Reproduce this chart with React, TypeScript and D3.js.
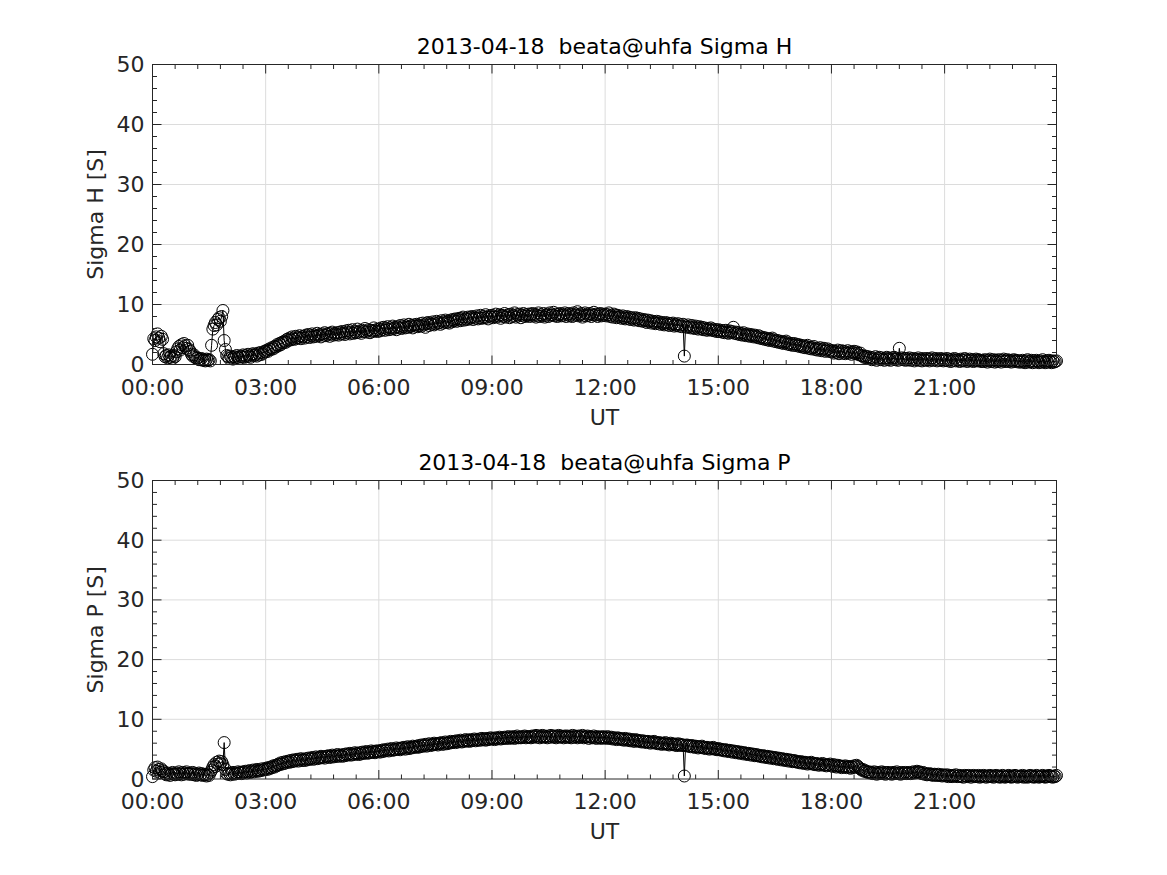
import { useMemo } from 'react';
import * as d3 from 'd3';

// one sample every 2 minutes, 00:00 .. 23:58, 30 per hour
const TIME_MIN = d3.range(0, 1440, 2);

const SIGMA_H = [
  // 00
  1.7, 4.3, 4.0, 4.6, 5.1, 4.4, 3.8, 4.7, 4.2, 1.8,
  1.3, 1.5, 1.1, 1.6, 1.2, 1.4, 1.0, 1.5, 1.3, 2.1,
  2.6, 3.0, 2.4, 3.3, 2.8, 3.5, 3.1, 2.7, 3.2, 2.5,
  // 01
  2.2, 1.7, 1.4, 1.6, 1.2, 1.0, 1.1, 0.8, 0.9, 1.0,
  0.7, 0.8, 0.6, 0.9, 0.7, 0.8, 0.6, 3.2, 5.9, 6.5,
  7.0, 6.6, 7.5, 7.8, 7.2, 8.0, 9.0, 4.0, 2.5, 1.5,
  // 02
  1.3, 1.0, 1.4, 1.2, 0.9, 1.3, 1.1, 1.5, 1.2, 1.0,
  1.4, 1.3, 1.6, 1.2, 1.5, 1.3, 1.7, 1.4, 1.2, 1.6,
  1.8, 1.5, 1.7, 1.4, 1.9, 1.6, 2.0, 1.7, 1.9, 2.2,
  // 03
  2.1, 2.4, 2.2, 2.6, 2.5, 2.8, 2.6, 3.0, 2.9, 3.3,
  3.1, 3.5, 3.3, 3.7, 3.6, 3.9, 3.7, 4.2, 4.0, 4.4,
  4.1, 4.6, 4.3, 4.2, 4.7, 4.4, 4.5, 4.8, 4.3, 4.6,
  // 04
  4.7, 4.4, 4.9, 4.6, 5.0, 4.5, 4.8, 5.1, 4.6, 4.9,
  4.7, 5.2, 4.8, 5.0, 4.6, 5.1, 4.9, 5.3, 4.8, 5.0,
  5.2, 4.7, 5.1, 5.4, 4.9, 5.2, 5.0, 5.3, 4.9, 5.4,
  // 05
  5.1, 5.5, 5.2, 5.0, 5.6, 5.3, 5.7, 5.1, 5.4, 5.8,
  5.2, 5.5, 5.3, 5.9, 5.4, 5.6, 5.2, 5.7, 5.5, 6.0,
  5.4, 5.6, 5.8, 5.3, 5.7, 5.5, 6.1, 5.6, 5.8, 5.5,
  // 06
  5.9, 5.6, 6.1, 5.8, 6.2, 5.7, 6.0, 6.3, 5.8, 6.1,
  5.9, 6.4, 6.0, 6.2, 5.8, 6.3, 6.1, 6.5, 6.0, 6.3,
  6.6, 6.1, 6.4, 6.2, 6.7, 6.3, 6.5, 6.1, 6.6, 6.4,
  // 07
  6.7, 6.3, 6.5, 6.8, 6.4, 6.9, 6.6, 6.2, 6.8, 7.0,
  6.5, 6.9, 6.7, 7.1, 6.6, 6.8, 7.2, 6.9, 7.0, 6.7,
  7.3, 6.9, 7.1, 7.4, 7.0, 7.2, 6.9, 7.4, 7.1, 7.5,
  // 08
  7.3, 7.6, 7.2, 7.5, 7.7, 7.3, 7.6, 7.9, 7.4, 7.7,
  7.5, 7.9, 7.6, 7.8, 8.0, 7.5, 7.9, 7.7, 8.1, 7.6,
  7.8, 8.2, 7.7, 8.0, 7.8, 8.3, 7.9, 7.6, 8.1, 7.9,
  // 09
  8.2, 7.8, 8.0, 8.4, 7.9, 8.1, 8.3, 7.7, 8.2, 8.0,
  8.5, 7.9, 8.1, 8.3, 7.8, 8.4, 8.0, 8.2, 8.6, 7.9,
  8.3, 8.1, 8.4, 7.8, 8.2, 8.5, 8.0, 8.3, 8.1, 8.4,
  // 10
  8.0, 8.3, 8.5, 8.1, 8.4, 7.9, 8.2, 8.6, 8.0, 8.3,
  8.1, 8.5, 7.9, 8.2, 8.4, 8.0, 8.6, 8.2, 8.3, 8.7,
  8.1, 8.4, 8.0, 8.3, 8.5, 8.1, 8.4, 8.2, 8.6, 8.0,
  // 11
  8.3, 8.5, 8.1, 8.4, 8.0, 8.6, 8.2, 8.4, 8.8, 8.1,
  8.3, 8.5, 7.9, 8.2, 8.6, 8.1, 8.4, 8.2, 8.5, 8.0,
  8.3, 8.7, 8.2, 8.4, 8.0, 8.3, 8.5, 8.1, 8.4, 8.2,
  // 12
  8.4, 8.1, 8.3, 8.6, 8.0, 8.2, 7.9, 8.4, 8.1, 7.8,
  8.2, 7.9, 8.0, 7.7, 8.1, 7.8, 7.6, 8.0, 7.7, 7.9,
  7.5, 7.8, 7.6, 7.4, 7.8, 7.5, 7.7, 7.3, 7.6, 7.4,
  // 13
  7.2, 7.5, 7.3, 7.0, 7.4, 7.1, 7.3, 6.9, 7.2, 7.0,
  6.8, 7.2, 6.9, 7.1, 6.7, 7.0, 6.8, 6.6, 7.0, 6.7,
  6.9, 6.5, 6.8, 6.6, 6.9, 6.4, 6.7, 6.5, 6.8, 6.4,
  // 14
  6.6, 6.3, 6.7, 1.4, 6.4, 6.2, 6.6, 6.3, 6.1, 6.5,
  6.2, 6.0, 6.4, 6.1, 5.9, 6.3, 6.0, 6.2, 5.8, 6.1,
  5.9, 5.7, 6.0, 5.8, 6.1, 5.7, 5.9, 5.6, 5.8, 5.5,
  // 15
  5.8, 5.5, 5.7, 5.4, 5.6, 5.3, 5.7, 5.4, 5.2, 5.6,
  5.3, 5.5, 6.2, 5.2, 5.4, 5.1, 5.3, 5.0, 5.2, 4.9,
  5.3, 5.0, 4.8, 5.1, 4.9, 4.7, 5.0, 4.8, 4.6, 4.9,
  // 16
  4.7, 4.5, 4.8, 4.4, 4.6, 4.3, 4.5, 4.2, 4.4, 4.1,
  4.3, 4.0, 4.2, 4.4, 3.9, 4.1, 3.8, 4.0, 3.7, 3.9,
  3.6, 3.8, 3.5, 3.7, 3.9, 3.4, 3.6, 3.3, 3.5, 3.2,
  // 17
  3.5, 3.2, 3.4, 3.1, 3.3, 3.0, 3.2, 2.9, 3.1, 2.8,
  3.0, 3.2, 2.7, 2.9, 2.6, 2.8, 3.0, 2.5, 2.7, 2.4,
  2.6, 2.8, 2.3, 2.5, 2.7, 2.2, 2.4, 2.6, 2.2, 2.4,
  // 18
  2.1, 2.3, 1.9, 2.2, 2.0, 2.4, 1.8, 2.1, 2.3, 1.9,
  2.2, 1.8, 2.0, 2.3, 1.9, 2.1, 1.7, 2.0, 2.2, 1.8,
  2.1, 1.9, 1.6, 1.9, 1.5, 1.4, 1.2, 1.4, 1.1, 1.3,
  // 19
  1.0, 1.2, 0.8, 1.1, 0.9, 1.3, 0.7, 1.0, 1.2, 0.8,
  1.1, 0.9, 0.7, 1.0, 1.2, 0.8, 1.0, 0.7, 1.1, 0.9,
  1.2, 0.8, 1.0, 0.7, 2.7, 0.9, 1.1, 0.8, 1.0, 0.7,
  // 20
  1.0, 0.8, 1.1, 0.7, 0.9, 1.0, 0.6, 0.9, 0.8, 1.1,
  0.7, 0.9, 0.6, 1.0, 0.8, 0.7, 1.0, 0.8, 0.6, 0.9,
  1.1, 0.7, 0.8, 1.0, 0.6, 0.9, 0.7, 1.0, 0.8, 0.6,
  // 21
  0.9, 0.7, 1.0, 0.6, 0.8, 0.5, 0.9, 0.7, 1.0, 0.6,
  0.8, 0.7, 0.5, 0.9, 0.7, 0.6, 1.0, 0.8, 0.5, 0.7,
  0.9, 0.6, 0.8, 0.5, 0.7, 0.9, 0.6, 0.8, 0.7, 0.5,
  // 22
  0.7, 0.5, 0.8, 0.6, 0.4, 0.7, 0.9, 0.5, 0.6, 0.8,
  0.4, 0.7, 0.5, 0.8, 0.6, 0.4, 0.7, 0.9, 0.5, 0.6,
  0.8, 0.5, 0.7, 0.4, 0.6, 0.8, 0.5, 0.7, 0.6, 0.4,
  // 23
  0.6, 0.4, 0.7, 0.5, 0.3, 0.6, 0.8, 0.4, 0.5, 0.7,
  0.3, 0.6, 0.4, 0.7, 0.5, 0.3, 0.6, 0.4, 0.8, 0.5,
  0.3, 0.6, 0.4, 0.7, 0.5, 0.3, 0.6, 0.4, 0.5, 0.6,
];

const SIGMA_P = [
  // 00
  0.4, 1.5, 1.9, 1.3, 2.0, 1.6, 1.1, 1.7, 1.4, 1.2,
  0.9, 0.7, 1.0, 0.8, 0.6, 0.9, 1.1, 0.8, 0.7, 1.0,
  0.8, 1.2, 0.9, 0.7, 1.1, 0.8, 1.0, 1.2, 0.9, 0.8,
  // 01
  1.0, 0.8, 1.1, 0.7, 0.9, 0.6, 0.8, 1.0, 0.7, 0.9,
  0.6, 0.8, 0.7, 0.5, 0.8, 0.6, 1.1, 1.5, 2.0, 2.4,
  2.1, 2.8, 2.5, 3.0, 2.6, 2.9, 2.4, 6.1, 1.6, 0.9,
  // 02
  0.8, 1.0, 0.7, 0.9, 1.1, 0.8, 1.0, 0.9, 1.2, 1.0,
  1.1, 0.9, 1.2, 1.1, 1.3, 1.0, 1.2, 1.4, 1.1, 1.3,
  1.5, 1.2, 1.4, 1.6, 1.3, 1.5, 1.4, 1.7, 1.5, 1.6,
  // 03
  1.8, 1.6, 1.9, 1.7, 2.0, 1.9, 2.2, 2.0, 2.3, 2.2,
  2.5, 2.4, 2.7, 2.5, 2.8, 2.6, 2.9, 2.8, 3.0, 2.8,
  3.1, 2.9, 3.2, 3.0, 3.1, 3.3, 3.0, 3.2, 3.4, 3.1,
  // 04
  3.3, 3.1, 3.4, 3.2, 3.5, 3.3, 3.4, 3.6, 3.3, 3.5,
  3.7, 3.4, 3.6, 3.5, 3.8, 3.6, 3.7, 3.5, 3.8, 3.7,
  3.9, 3.6, 3.8, 4.0, 3.7, 3.9, 3.8, 4.1, 3.8, 4.0,
  // 05
  4.0, 3.8, 4.1, 3.9, 4.2, 4.0, 4.1, 4.3, 4.0, 4.2,
  4.1, 4.4, 4.2, 4.3, 4.1, 4.4, 4.2, 4.5, 4.3, 4.4,
  4.6, 4.3, 4.5, 4.4, 4.7, 4.5, 4.6, 4.4, 4.7, 4.6,
  // 06
  4.7, 4.5, 4.8, 4.6, 4.9, 4.7, 4.8, 5.0, 4.7, 4.9,
  5.1, 4.8, 5.0, 4.9, 5.2, 5.0, 5.1, 4.9, 5.2, 5.1,
  5.3, 5.0, 5.2, 5.4, 5.1, 5.3, 5.2, 5.5, 5.3, 5.4,
  // 07
  5.5, 5.3, 5.6, 5.4, 5.7, 5.5, 5.6, 5.8, 5.5, 5.7,
  5.9, 5.6, 5.8, 5.7, 6.0, 5.8, 5.9, 5.7, 6.0, 5.9,
  6.1, 5.8, 6.0, 6.2, 5.9, 6.1, 6.0, 6.3, 6.1, 6.2,
  // 08
  6.3, 6.1, 6.4, 6.2, 6.3, 6.5, 6.2, 6.4, 6.3, 6.6,
  6.4, 6.5, 6.3, 6.6, 6.4, 6.5, 6.7, 6.4, 6.6, 6.5,
  6.7, 6.5, 6.8, 6.6, 6.7, 6.5, 6.8, 6.6, 6.7, 6.9,
  // 09
  6.7, 6.8, 6.6, 6.9, 6.7, 6.8, 7.0, 6.7, 6.9, 6.8,
  7.0, 6.8, 6.9, 7.1, 6.8, 7.0, 6.9, 7.1, 6.8, 7.0,
  7.2, 6.9, 7.0, 6.9, 7.1, 7.0, 7.2, 6.9, 7.1, 7.0,
  // 10
  7.1, 6.9, 7.2, 7.0, 7.1, 7.3, 7.0, 7.2, 6.9, 7.1,
  7.3, 7.0, 7.2, 7.1, 6.9, 7.2, 7.0, 7.3, 7.1, 7.0,
  7.2, 6.9, 7.1, 7.3, 7.0, 7.2, 7.1, 6.9, 7.2, 7.0,
  // 11
  7.2, 7.0, 7.1, 6.9, 7.3, 7.0, 7.2, 7.1, 6.9, 7.2,
  7.0, 7.1, 7.3, 6.9, 7.1, 7.0, 7.2, 6.8, 7.1, 7.0,
  6.9, 7.2, 7.0, 6.8, 7.1, 6.9, 7.0, 6.8, 7.1, 6.9,
  // 12
  7.0, 6.8, 7.1, 6.9, 6.8, 7.0, 6.7, 6.9, 6.8, 6.6,
  6.9, 6.7, 6.8, 6.6, 6.7, 6.5, 6.8, 6.6, 6.5, 6.7,
  6.4, 6.6, 6.5, 6.3, 6.6, 6.4, 6.5, 6.3, 6.4, 6.2,
  // 13
  6.4, 6.2, 6.3, 6.1, 6.3, 6.2, 6.0, 6.2, 6.1, 6.3,
  6.0, 6.1, 5.9, 6.1, 6.0, 5.8, 6.0, 5.9, 6.1, 5.8,
  5.9, 5.7, 6.0, 5.8, 5.9, 5.7, 5.8, 5.6, 5.9, 5.7,
  // 14
  5.8, 5.6, 5.7, 0.5, 5.6, 5.7, 5.5, 5.6, 5.4, 5.6,
  5.5, 5.3, 5.5, 5.4, 5.2, 5.4, 5.3, 5.5, 5.2, 5.3,
  5.1, 5.3, 5.2, 5.0, 5.2, 5.1, 5.3, 5.0, 5.1, 4.9,
  // 15
  5.1, 4.9, 5.0, 4.8, 4.9, 4.7, 4.9, 4.8, 4.6, 4.8,
  4.7, 4.5, 4.7, 4.6, 4.4, 4.6, 4.5, 4.3, 4.5, 4.4,
  4.2, 4.4, 4.3, 4.1, 4.3, 4.2, 4.0, 4.2, 4.1, 3.9,
  // 16
  4.1, 3.9, 4.0, 3.8, 3.9, 3.7, 3.9, 3.8, 3.6, 3.8,
  3.7, 3.5, 3.7, 3.6, 3.4, 3.6, 3.5, 3.3, 3.5, 3.4,
  3.2, 3.4, 3.3, 3.1, 3.3, 3.2, 3.0, 3.2, 3.1, 2.9,
  // 17
  3.1, 2.9, 3.0, 2.8, 2.9, 2.7, 2.9, 2.8, 2.6, 2.8,
  2.7, 2.5, 2.7, 2.6, 2.8, 2.5, 2.6, 2.4, 2.6, 2.5,
  2.3, 2.5, 2.4, 2.6, 2.3, 2.4, 2.2, 2.4, 2.3, 2.5,
  // 18
  2.3, 2.1, 2.4, 2.2, 2.0, 2.3, 2.1, 2.2, 1.9, 2.1,
  2.0, 2.2, 1.9, 2.1, 2.0, 1.8, 2.1, 1.9, 2.2, 2.0,
  2.3, 2.1, 1.9, 1.7, 1.5, 1.6, 1.3, 1.4, 1.2, 1.1,
  // 19
  1.2, 1.0, 1.1, 0.9, 1.2, 1.0, 0.8, 1.1, 0.9, 1.0,
  1.2, 0.9, 1.1, 0.8, 1.0, 1.1, 0.9, 1.0, 0.8, 1.1,
  0.9, 1.0, 1.2, 0.9, 1.0, 0.8, 1.1, 0.9, 1.0, 1.1,
  // 20
  0.9, 1.0, 1.1, 0.9, 1.0, 1.2, 1.0, 1.1, 1.3, 1.1,
  1.2, 1.0, 0.9, 1.1, 0.8, 0.9, 0.7, 0.8, 0.9, 0.7,
  0.8, 0.6, 0.8, 0.7, 0.6, 0.8, 0.6, 0.7, 0.5, 0.7,
  // 21
  0.6, 0.5, 0.7, 0.4, 0.6, 0.5, 0.4, 0.6, 0.5, 0.7,
  0.4, 0.5, 0.6, 0.4, 0.5, 0.3, 0.6, 0.5, 0.4, 0.6,
  0.5, 0.3, 0.5, 0.6, 0.4, 0.5, 0.4, 0.6, 0.3, 0.5,
  // 22
  0.4, 0.6, 0.5, 0.3, 0.5, 0.4, 0.6, 0.4, 0.5, 0.3,
  0.5, 0.6, 0.4, 0.5, 0.3, 0.4, 0.6, 0.5, 0.3, 0.4,
  0.5, 0.6, 0.4, 0.3, 0.5, 0.4, 0.6, 0.5, 0.3, 0.4,
  // 23
  0.5, 0.4, 0.6, 0.3, 0.5, 0.4, 0.3, 0.5, 0.6, 0.4,
  0.5, 0.3, 0.4, 0.6, 0.5, 0.3, 0.4, 0.5, 0.6, 0.4,
  0.3, 0.5, 0.4, 0.6, 0.5, 0.4, 0.3, 0.5, 0.4, 0.6,
];

const X_TICK_MIN = [0, 180, 360, 540, 720, 900, 1080, 1260];
const X_TICK_LABELS = ['00:00', '03:00', '06:00', '09:00', '12:00', '15:00', '18:00', '21:00'];
const Y_TICKS = [0, 10, 20, 30, 40, 50];

const W = 1167;
const H = 875;
const LEFT = 152.5;
const RIGHT = 1056.5;
const FONT = '"DejaVu Sans", sans-serif';
const AX = '#262626';

function Panel({ top, bottom, values, title, ylabel }) {
  const x = useMemo(() => d3.scaleLinear().domain([0, 1438]).range([LEFT, RIGHT]), []);
  const y = useMemo(() => d3.scaleLinear().domain([0, 50]).range([bottom, top]), [top, bottom]);

  const pts = TIME_MIN.map((t, i) => [x(t), y(values[i])]).filter((p) => !isNaN(p[1]));
  const line = d3.line()(pts);

  const xMinor = d3.range(0, 1440, 36).filter((m) => m % 180 !== 0 && x(m) < RIGHT);
  const yMinor = d3.range(0, 51, 2).filter((v) => v % 10 !== 0);

  return (
    <g>
      {/* grid */}
      {X_TICK_MIN.slice(1).map((m) => (
        <line key={'gx' + m} x1={x(m)} x2={x(m)} y1={top} y2={bottom} stroke="#dcdcdc" strokeWidth={1} />
      ))}
      {Y_TICKS.slice(1, -1).map((v) => (
        <line key={'gy' + v} x1={LEFT} x2={RIGHT} y1={y(v)} y2={y(v)} stroke="#dcdcdc" strokeWidth={1} />
      ))}

      {/* data */}
      <path d={line} fill="none" stroke="#000" strokeWidth={1} />
      {pts.map(([px, py], i) => (
        <circle key={i} cx={px} cy={py} r={6} fill="none" stroke="#000" strokeWidth={1} />
      ))}

      {/* box */}
      <rect x={LEFT} y={top} width={RIGHT - LEFT} height={bottom - top} fill="none" stroke={AX} strokeWidth={1} />

      {/* ticks, inward on all sides */}
      {X_TICK_MIN.map((m) => (
        <g key={'tx' + m}>
          <line x1={x(m)} x2={x(m)} y1={bottom} y2={bottom - 9} stroke={AX} />
          <line x1={x(m)} x2={x(m)} y1={top} y2={top + 9} stroke={AX} />
        </g>
      ))}
      {xMinor.map((m) => (
        <g key={'mx' + m}>
          <line x1={x(m)} x2={x(m)} y1={bottom} y2={bottom - 4.5} stroke={AX} />
          <line x1={x(m)} x2={x(m)} y1={top} y2={top + 4.5} stroke={AX} />
        </g>
      ))}
      {Y_TICKS.map((v) => (
        <g key={'ty' + v}>
          <line x1={LEFT} x2={LEFT + 9} y1={y(v)} y2={y(v)} stroke={AX} />
          <line x1={RIGHT} x2={RIGHT - 9} y1={y(v)} y2={y(v)} stroke={AX} />
        </g>
      ))}
      {yMinor.map((v) => (
        <g key={'my' + v}>
          <line x1={LEFT} x2={LEFT + 4.5} y1={y(v)} y2={y(v)} stroke={AX} />
          <line x1={RIGHT} x2={RIGHT - 4.5} y1={y(v)} y2={y(v)} stroke={AX} />
        </g>
      ))}

      {/* tick labels */}
      {X_TICK_MIN.map((m, i) => (
        <text key={'lx' + m} x={x(m)} y={bottom + 30} textAnchor="middle" fontSize={22} fill={AX}>
          {X_TICK_LABELS[i]}
        </text>
      ))}
      {Y_TICKS.map((v) => (
        <text key={'ly' + v} x={LEFT - 8} y={y(v) + 7.5} textAnchor="end" fontSize={22} fill={AX}>
          {v}
        </text>
      ))}

      {/* labels */}
      <text x={(LEFT + RIGHT) / 2} y={bottom + 60} textAnchor="middle" fontSize={22} fill={AX}>
        UT
      </text>
      <text
        transform={`translate(103, ${(top + bottom) / 2}) rotate(-90)`}
        textAnchor="middle"
        fontSize={22}
        fill={AX}
        style={{ whiteSpace: 'pre' }}
      >
        {ylabel}
      </text>
      <text
        x={(LEFT + RIGHT) / 2}
        y={top - 11}
        textAnchor="middle"
        fontSize={22}
        fill="#000"
        style={{ whiteSpace: 'pre' }}
      >
        {title}
      </text>
    </g>
  );
}

export default function App() {
  return (
    <div style={{ position: 'absolute', left: 0, top: 0 }}>
      <svg width={W} height={H} style={{ display: 'block', background: '#fff', fontFamily: FONT }}>
        <rect width={W} height={H} fill="#fff" />
        <Panel top={64.5} bottom={364.5} values={SIGMA_H} title="2013-04-18  beata@uhfa Sigma H" ylabel="Sigma H [S]" />
        <Panel top={480.5} bottom={779} values={SIGMA_P} title="2013-04-18  beata@uhfa Sigma P" ylabel="Sigma P [S]" />
      </svg>
    </div>
  );
}
